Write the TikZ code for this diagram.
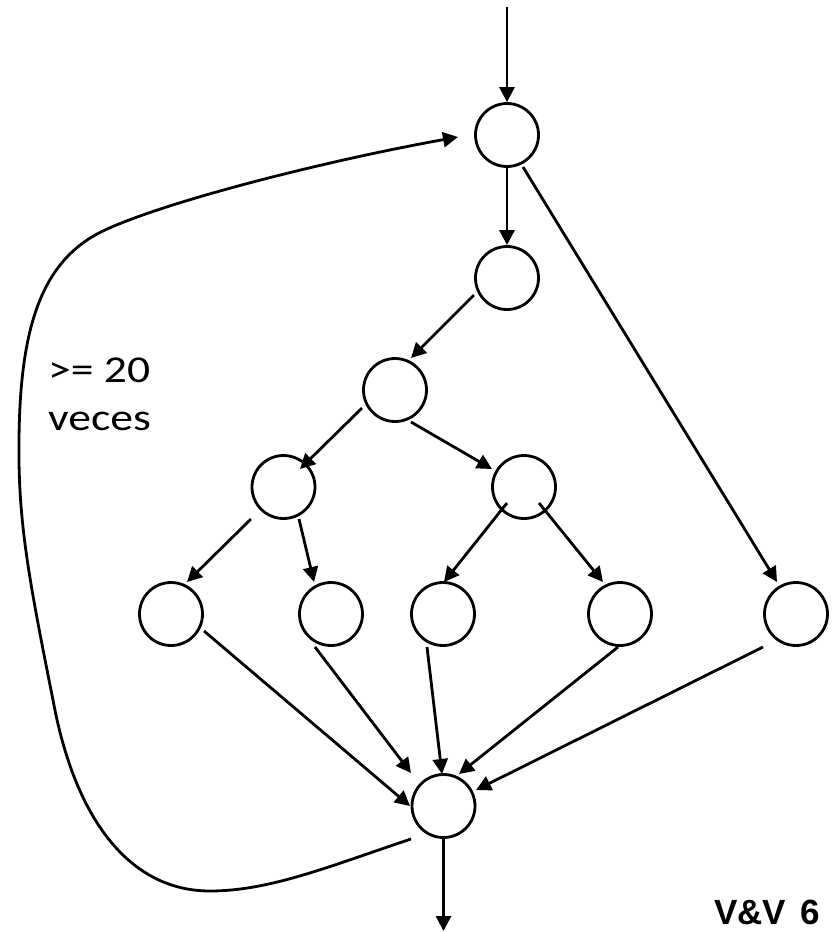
\documentclass[tikz,border=0pt]{standalone}
\usepackage{fontspec}
\usetikzlibrary{arrows.meta}
\newfontfamily\notefont{Carlito}
\newfontfamily\tagfont{Liberation Sans}[BoldFont={Liberation Sans Bold}]
\begin{document}
\begin{tikzpicture}[x=1pt, y=-1pt,
  vertex/.style={circle, draw, line width=2.8pt, minimum size=63pt, inner sep=0pt},
  flow/.style={line width=2.8pt, -{Triangle[length=15pt,width=15pt]}},
  note/.style={anchor=base west, inner sep=0pt, xscale=1.2, font=\notefont\fontsize{38}{46}\selectfont},
  tag/.style={anchor=base west, inner sep=0pt, font=\tagfont\bfseries\fontsize{35}{42}\selectfont}]
  \useasboundingbox (0,0) rectangle (833,932);
  \fill[white] (0,0) rectangle (833,932);

  % vertices of the flow graph
  \node[vertex] (A) at (507,135) {};
  \node[vertex] (B) at (507,278) {};
  \node[vertex] (C) at (395,390) {};
  \node[vertex] (D) at (283.5,487) {};
  \node[vertex] (E) at (524,487) {};
  \node[vertex] (F) at (171,614) {};
  \node[vertex] (G) at (331,614) {};
  \node[vertex] (H) at (443,614) {};
  \node[vertex] (I) at (620,614) {};
  \node[vertex] (J) at (796,614) {};
  \node[vertex] (K) at (443.5,806) {};

  \coordinate (entry) at (507,7);
  \coordinate (exit) at (443.5,931);

  % entry and exit
  \draw[flow] (entry) -- (A.north);
  \draw[flow] (K.south) -- (exit);

  % edges
  \draw[flow] (A.south) -- (B.north);
  \draw[flow] ([shift={(16,32)}]A.center) -- ([shift={(-19,-32)}]J.center);
  \draw[flow] ([shift={(-33,17)}]B.center) -- ([shift={(16,-32)}]C.center);
  \draw[flow] ([shift={(-33,18)}]C.center) -- ([shift={(16.5,-18)}]D.center);
  \draw[flow] ([shift={(16,32)}]C.center) -- ([shift={(-32,-18)}]E.center);
  \draw[flow] ([shift={(-32.5,32)}]D.center) -- ([shift={(16,-32)}]F.center);
  \draw[flow] ([shift={(15.5,32)}]D.center) -- ([shift={(-17,-32)}]G.center);
  \draw[flow] ([shift={(-17,16)}]E.center) -- ([shift={(1,-32)}]H.center);
  \draw[flow] ([shift={(15,16)}]E.center) -- ([shift={(-17,-32)}]I.center);
  \draw[flow] ([shift={(33,17)}]F.center) -- ([shift={(-33.5,0)}]K.center);
  \draw[flow] ([shift={(-16,33)}]G.center) -- ([shift={(-32.5,-33)}]K.center);
  \draw[flow] ([shift={(-16,33)}]H.center) -- ([shift={(-1.5,-32)}]K.center);
  \draw[flow] ([shift={(-2,33)}]I.center) -- ([shift={(15.5,-32)}]K.center);
  \draw[flow] ([shift={(-33,33)}]J.center) -- ([shift={(32.5,-16)}]K.center);

  % loop back edge
  \draw[flow] ([shift={(-32.5,33)}]K.center)
    .. controls (330,866) and (270,891) .. (210,891)
    .. controls (130,891) and (75,820) .. (53,700)
    .. controls (28,575) and (18,520) .. (19,440)
    .. controls (20,330) and (40,260) .. (105,230)
    .. controls (170,200) and (330,160) .. ([shift={(-49,2)}]A.center);

  % labels
  \node[note] (n1) at (48,382) {>= 20};
  \node[note] (n2) at (48,430) {veces};
  \node[tag] (vv) at (714,924) {V\&V\hspace{14pt}6};
\end{tikzpicture}
\end{document}
